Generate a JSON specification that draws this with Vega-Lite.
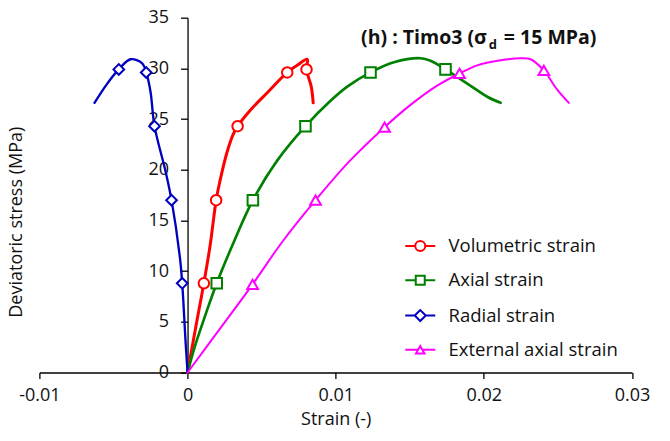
{
  "$schema": "https://vega.github.io/schema/vega-lite/v6.json",
  "width": 592.6,
  "height": 354.8,
  "autosize": "none",
  "padding": {"left": 39.4, "top": 17.7, "right": 38, "bottom": 68.5},
  "background": "white",
  "config": {
    "view": {"stroke": null},
    "font": "Open Sans",
    "axis": {
      "grid": false,
      "domainColor": "black",
      "domainWidth": 1.3,
      "tickColor": "black",
      "tickWidth": 1.3,
      "labelColor": "#111111",
      "titleColor": "#111111",
      "labelFontSize": 18,
      "titleFontSize": 18,
      "titleFontWeight": "normal",
      "labelFont": "Open Sans",
      "titleFont": "Open Sans"
    }
  },
  "datasets": {
    "curves": [
      {"s": "Volumetric strain", "k": 0, "x": 0, "y": 0, "m": 0},
      {"s": "Volumetric strain", "k": 1, "x": 0.00062, "y": 5.0, "m": 0},
      {"s": "Volumetric strain", "k": 2, "x": 0.0011, "y": 8.8, "m": 1},
      {"s": "Volumetric strain", "k": 3, "x": 0.00153, "y": 12.6, "m": 0},
      {"s": "Volumetric strain", "k": 4, "x": 0.00193, "y": 17.0, "m": 1},
      {"s": "Volumetric strain", "k": 5, "x": 0.00219, "y": 18.9, "m": 0},
      {"s": "Volumetric strain", "k": 6, "x": 0.00264, "y": 21.6, "m": 0},
      {"s": "Volumetric strain", "k": 7, "x": 0.00305, "y": 23.4, "m": 0},
      {"s": "Volumetric strain", "k": 8, "x": 0.00338, "y": 24.3, "m": 1},
      {"s": "Volumetric strain", "k": 9, "x": 0.00425, "y": 25.9, "m": 0},
      {"s": "Volumetric strain", "k": 10, "x": 0.00538, "y": 27.6, "m": 0},
      {"s": "Volumetric strain", "k": 11, "x": 0.00673, "y": 29.6, "m": 1},
      {"s": "Volumetric strain", "k": 12, "x": 0.0074, "y": 30.3, "m": 0},
      {"s": "Volumetric strain", "k": 13, "x": 0.00808, "y": 30.9, "m": 0},
      {"s": "Volumetric strain", "k": 14, "x": 0.00803, "y": 29.9, "m": 1},
      {"s": "Volumetric strain", "k": 15, "x": 0.00835, "y": 28.2, "m": 0},
      {"s": "Volumetric strain", "k": 16, "x": 0.00848, "y": 26.6, "m": 0},

      {"s": "Axial strain", "k": 0, "x": 0, "y": 0, "m": 0},
      {"s": "Axial strain", "k": 1, "x": 0.0005, "y": 2.6, "m": 0},
      {"s": "Axial strain", "k": 2, "x": 0.001, "y": 4.8, "m": 0},
      {"s": "Axial strain", "k": 3, "x": 0.00197, "y": 8.8, "m": 1},
      {"s": "Axial strain", "k": 4, "x": 0.00313, "y": 12.9, "m": 0},
      {"s": "Axial strain", "k": 5, "x": 0.00441, "y": 17.0, "m": 1},
      {"s": "Axial strain", "k": 6, "x": 0.00605, "y": 20.9, "m": 0},
      {"s": "Axial strain", "k": 7, "x": 0.00796, "y": 24.3, "m": 1},
      {"s": "Axial strain", "k": 8, "x": 0.00965, "y": 26.8, "m": 0},
      {"s": "Axial strain", "k": 9, "x": 0.01078, "y": 28.2, "m": 0},
      {"s": "Axial strain", "k": 10, "x": 0.01235, "y": 29.6, "m": 1},
      {"s": "Axial strain", "k": 11, "x": 0.01393, "y": 30.6, "m": 0},
      {"s": "Axial strain", "k": 12, "x": 0.01573, "y": 31.0, "m": 0},
      {"s": "Axial strain", "k": 13, "x": 0.0164, "y": 30.75, "m": 0},
      {"s": "Axial strain", "k": 14, "x": 0.01741, "y": 29.9, "m": 1},
      {"s": "Axial strain", "k": 15, "x": 0.01888, "y": 28.5, "m": 0},
      {"s": "Axial strain", "k": 16, "x": 0.02023, "y": 27.2, "m": 0},
      {"s": "Axial strain", "k": 17, "x": 0.02113, "y": 26.6, "m": 0},

      {"s": "Radial strain", "k": 0, "x": 0, "y": 0, "m": 0},
      {"s": "Radial strain", "k": 1, "x": -0.00014, "y": 3.2, "m": 0},
      {"s": "Radial strain", "k": 2, "x": -0.00036, "y": 8.8, "m": 1},
      {"s": "Radial strain", "k": 3, "x": -0.00052, "y": 11.4, "m": 0},
      {"s": "Radial strain", "k": 4, "x": -0.00108, "y": 17.0, "m": 1},
      {"s": "Radial strain", "k": 5, "x": -0.00148, "y": 19.8, "m": 0},
      {"s": "Radial strain", "k": 6, "x": -0.00223, "y": 24.3, "m": 1},
      {"s": "Radial strain", "k": 7, "x": -0.0025, "y": 27.7, "m": 0},
      {"s": "Radial strain", "k": 8, "x": -0.00279, "y": 29.6, "m": 1},
      {"s": "Radial strain", "k": 9, "x": -0.00306, "y": 30.5, "m": 0},
      {"s": "Radial strain", "k": 10, "x": -0.00385, "y": 30.9, "m": 0},
      {"s": "Radial strain", "k": 11, "x": -0.00464, "y": 29.9, "m": 1},
      {"s": "Radial strain", "k": 12, "x": -0.00542, "y": 28.5, "m": 0},
      {"s": "Radial strain", "k": 13, "x": -0.00628, "y": 26.6, "m": 0},

      {"s": "External axial strain", "k": 0, "x": 0, "y": 0, "m": 0},
      {"s": "External axial strain", "k": 1, "x": 0.00223, "y": 4.4, "m": 0},
      {"s": "External axial strain", "k": 2, "x": 0.00439, "y": 8.7, "m": 1},
      {"s": "External axial strain", "k": 3, "x": 0.00635, "y": 12.8, "m": 0},
      {"s": "External axial strain", "k": 4, "x": 0.00864, "y": 17.0, "m": 1},
      {"s": "External axial strain", "k": 5, "x": 0.0109, "y": 20.8, "m": 0},
      {"s": "External axial strain", "k": 6, "x": 0.0133, "y": 24.2, "m": 1},
      {"s": "External axial strain", "k": 7, "x": 0.01505, "y": 26.4, "m": 0},
      {"s": "External axial strain", "k": 8, "x": 0.01685, "y": 28.3, "m": 0},
      {"s": "External axial strain", "k": 9, "x": 0.01836, "y": 29.5, "m": 1},
      {"s": "External axial strain", "k": 10, "x": 0.01955, "y": 30.3, "m": 0},
      {"s": "External axial strain", "k": 11, "x": 0.02113, "y": 30.8, "m": 0},
      {"s": "External axial strain", "k": 12, "x": 0.02248, "y": 31.0, "m": 0},
      {"s": "External axial strain", "k": 13, "x": 0.02315, "y": 30.9, "m": 0},
      {"s": "External axial strain", "k": 14, "x": 0.02405, "y": 29.8, "m": 1},
      {"s": "External axial strain", "k": 15, "x": 0.02495, "y": 27.9, "m": 0},
      {"s": "External axial strain", "k": 16, "x": 0.02574, "y": 26.6, "m": 0}
    ]
  },
  "layer": [
    {
      "data": {"name": "curves"},
      "encoding": {
        "x": {
          "field": "x",
          "type": "quantitative",
          "scale": {"domain": [-0.01, 0.03], "nice": false, "zero": false},
          "axis": {
            "title": "Strain (-)",
            "values": [-0.01, 0, 0.01, 0.02, 0.03],
            "labelExpr": "datum.value == 0 ? '0' : (datum.value < 0 ? '-' : '') + format(abs(datum.value), '.2f')",
            "tickSize": 6,
            "labelPadding": 8,
            "titlePadding": 6,
            "labelFlush": false,
            "labelOverlap": false
          }
        },
        "y": {
          "field": "y",
          "type": "quantitative",
          "scale": {"domain": [0, 35], "nice": false},
          "axis": {
            "title": "Deviatoric stress (MPa)",
            "values": [0, 5, 10, 15, 20, 25, 30, 35],
            "offset": -148.15,
            "tickSize": 7,
            "labelPadding": 12,
            "titleAngle": -90,
            "titleX": -171.5,
            "titleY": 204,
            "titleAlign": "center",
            "titleBaseline": "middle",
            "labelOverlap": false
          }
        }
      },
      "layer": [
        {
          "mark": {"type": "line", "interpolate": "catmull-rom", "strokeJoin": "round", "strokeCap": "round"},
          "encoding": {
            "color": {
              "field": "s",
              "type": "nominal",
              "scale": {
                "domain": ["Volumetric strain", "Axial strain", "Radial strain", "External axial strain"],
                "range": ["#FF0000", "#008000", "#0000C0", "#FF00FF"]
              },
              "legend": null
            },
            "strokeWidth": {
              "field": "s",
              "type": "nominal",
              "scale": {
                "domain": ["Volumetric strain", "Axial strain", "Radial strain", "External axial strain"],
                "range": [3, 2, 2.5, 1.8]
              },
              "legend": null
            },
            "order": {"field": "k", "type": "quantitative"}
          }
        },
        {
          "transform": [{"filter": "datum.m == 1"}],
          "mark": {"type": "point", "filled": false, "fill": "white", "strokeWidth": 2, "opacity": 1},
          "encoding": {
            "color": {"field": "s", "type": "nominal", "legend": null},
            "shape": {
              "field": "s",
              "type": "nominal",
              "scale": {
                "domain": ["Volumetric strain", "Axial strain", "Radial strain", "External axial strain"],
                "range": ["circle", "square", "diamond", "triangle-up"]
              },
              "legend": null
            },
            "size": {
              "field": "s",
              "type": "nominal",
              "scale": {
                "domain": ["Volumetric strain", "Axial strain", "Radial strain", "External axial strain"],
                "range": [110, 115, 190, 160]
              },
              "legend": null
            }
          }
        },
        {
          "transform": [{"filter": "datum.k == 0"}],
          "mark": {"type": "point", "opacity": 0, "size": 100, "filled": false},
          "encoding": {
            "stroke": {
              "field": "s",
              "type": "nominal",
              "scale": {
                "domain": ["Volumetric strain", "Axial strain", "Radial strain", "External axial strain"],
                "range": ["#FF0000", "#008000", "#0000C0", "#FF00FF"]
              },
              "legend": {
                "title": null,
                "orient": "none",
                "legendX": 371.6,
                "legendY": 219,
                "symbolSize": 100,
                "symbolStrokeWidth": 2,
                "symbolFillColor": "white",
                "labelFontSize": 18.5,
                "labelFont": "Open Sans",
                "labelColor": "#111111",
                "labelOffset": 19,
                "labelLimit": 400,
                "rowPadding": 15.3,
                "padding": 0
              }
            },
            "shape": {
              "field": "s",
              "type": "nominal",
              "scale": {
                "domain": ["Volumetric strain", "Axial strain", "Radial strain", "External axial strain"],
                "range": [
                  "M-3,0L-1,0M1,0L3,0M-1,0A1,1,0,1,1,1,0A1,1,0,1,1,-1,0Z",
                  "M-3,0L-0.9,0M0.9,0L3,0M-0.9,-0.9L0.9,-0.9L0.9,0.9L-0.9,0.9Z",
                  "M-3,0L-1.1,0M1.1,0L3,0M-1.1,0L0,-1.1L1.1,0L0,1.1Z",
                  "M-3,0L-0.45,0M0.45,0L3,0M0,-0.75L-0.85,0.75L0.85,0.75Z"
                ]
              },
              "legend": {
                "title": null,
                "orient": "none",
                "legendX": 371.6,
                "legendY": 219,
                "symbolSize": 100,
                "symbolStrokeWidth": 2,
                "symbolFillColor": "white",
                "labelFontSize": 18.5,
                "labelFont": "Open Sans",
                "labelColor": "#111111",
                "labelOffset": 19,
                "labelLimit": 400,
                "rowPadding": 15.3,
                "padding": 0
              }
            }
          }
        }
      ],
      "resolve": {"scale": {"shape": "independent", "size": "independent", "stroke": "independent"}}
    },
    {
      "data": {"values": [{"t": "(h) : Timo3 (σ"}]},
      "mark": {"type": "text", "align": "right", "baseline": "alphabetic", "fontSize": 19.5, "fontWeight": "bold", "font": "Open Sans", "fill": "#111111"},
      "encoding": {"x": {"datum": 0.0202, "type": "quantitative"}, "y": {"datum": 32.4, "type": "quantitative"}, "text": {"field": "t", "type": "nominal"}}
    },
    {
      "data": {"values": [{"t": "d"}]},
      "mark": {"type": "text", "align": "left", "baseline": "alphabetic", "fontSize": 13, "fontWeight": "bold", "font": "Open Sans", "fill": "#111111", "dx": 2, "dy": 5},
      "encoding": {"x": {"datum": 0.0202, "type": "quantitative"}, "y": {"datum": 32.4, "type": "quantitative"}, "text": {"field": "t", "type": "nominal"}}
    },
    {
      "data": {"values": [{"t": "= 15 MPa)"}]},
      "mark": {"type": "text", "align": "left", "baseline": "alphabetic", "fontSize": 19.5, "fontWeight": "bold", "font": "Open Sans", "fill": "#111111", "dx": 17},
      "encoding": {"x": {"datum": 0.0202, "type": "quantitative"}, "y": {"datum": 32.4, "type": "quantitative"}, "text": {"field": "t", "type": "nominal"}}
    }
  ]
}
